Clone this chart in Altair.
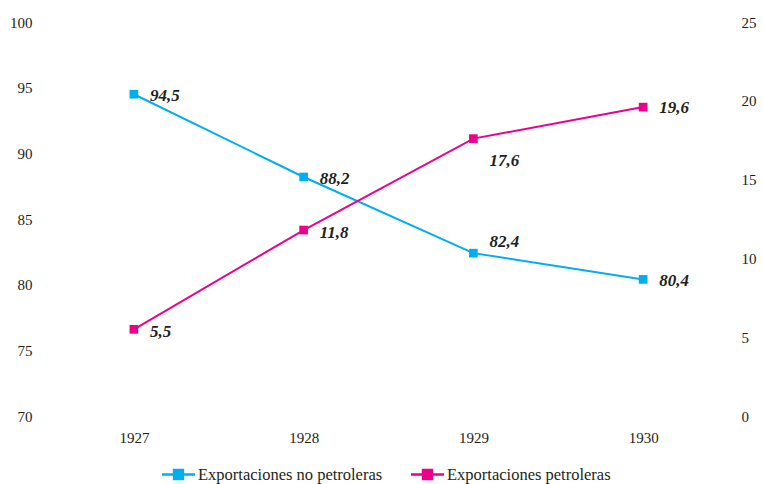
import altair as alt
import pandas as pd

years = ["1927", "1928", "1929", "1930"]
no_petroleras = [94.5, 88.2, 82.4, 80.4]
petroleras = [5.5, 11.8, 17.6, 19.6]
series_names = ["Exportaciones no petroleras", "Exportaciones petroleras"]
colors = ["#00AEEF", "#EC008C"]
left_ticks = [70, 75, 80, 85, 90, 95, 100]
right_ticks = [0, 5, 10, 15, 20, 25]

df_a = pd.DataFrame({"year": years, "value": no_petroleras, "series": series_names[0]})
df_b = pd.DataFrame({"year": years, "value": petroleras, "series": series_names[1]})

FONT = "Liberation Serif"
TXT = "#231F20"

xenc = alt.X("year:O", scale=alt.Scale(type="point", padding=0.5),
             axis=alt.Axis(title=None, labelAngle=0, domain=False, ticks=False,
                           labelPadding=14, labelFontSize=15, labelFont=FONT,
                           labelColor=TXT))

color = alt.Color("series:N",
                  scale=alt.Scale(domain=series_names, range=colors),
                  legend=alt.Legend(title=None, orient="none", direction="horizontal",
                                    legendX=120, legendY=443,
                                    symbolType="M-2,0H2M-0.54,-0.54H0.54V0.54H-0.54Z",
                                    symbolSize=272, symbolStrokeWidth=2.5,
                                    labelFont=FONT, labelFontSize=16.5, labelColor=TXT,
                                    labelLimit=400, columnPadding=23, padding=0,
                                    labelOffset=10))

def series_layer(df, domain, ticks, orient, offsets):
    y = alt.Y("value:Q", scale=alt.Scale(domain=domain, nice=False, zero=False),
              axis=alt.Axis(title=None, orient=orient, values=ticks, domain=False,
                            ticks=False, grid=False, labelPadding=17 if orient == "left" else 13,
                            labelFontSize=15, labelFont=FONT, labelColor=TXT))
    base = alt.Chart(df)
    line = base.mark_line(strokeWidth=2,
                          point=alt.OverlayMarkDef(shape="square", filled=True, size=75, opacity=1)).encode(
        x=xenc, y=y, color=color)
    layers = [line]
    for yrs, dy in offsets:
        t = base.transform_filter(alt.FieldOneOfPredicate(field="year", oneOf=yrs)).transform_calculate(
            lbl="replace(format(datum.value, '.1f'), '.', ',')"
        ).mark_text(align="left", baseline="middle", dx=16, dy=dy, font=FONT,
                    fontSize=17, fontStyle="italic", fontWeight="bold", color=TXT).encode(
            x=xenc, y=y, text="lbl:N")
        layers.append(t)
    return alt.layer(*layers)

left = series_layer(df_a, [70, 100], left_ticks, "left",
                    [(["1927", "1928", "1930"], 2), (["1929"], -11)])
right = series_layer(df_b, [0, 25], right_ticks, "right",
                     [(["1927"], 3), (["1928"], 3), (["1929"], 22), (["1930"], 1)])

chart = alt.layer(left, right).resolve_scale(y="independent").properties(
    width=679, height=394,
    autosize=alt.AutoSizeParams(type="none"),
    padding={"left": 49, "top": 22, "right": 35, "bottom": 68},
    background="white",
).configure_view(stroke=None)

chart.save("out.html", embed_options={"renderer": "svg", "actions": False})
